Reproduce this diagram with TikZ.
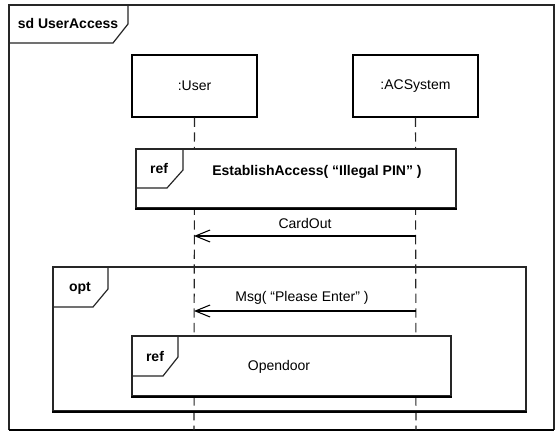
\documentclass[tikz,border=0pt]{standalone}
\usepackage{fontspec}
\setmainfont{Liberation Sans}
\usetikzlibrary{arrows.meta}
\begin{document}
\begin{tikzpicture}[x=0.75pt,y=-0.75pt,
  frameline/.style={draw=black!85,line width=0.9pt},
  lifebox/.style={draw=black,line width=0.9pt,fill=white,minimum width=93.75pt,minimum height=46.5pt,inner sep=0pt,font=\fontsize{10.5}{12}\selectfont},
  lifeline/.style={draw=black!85,line width=0.8pt,dash pattern=on 7pt off 4pt},
  msg/.style={draw=black,line width=0.8pt,-{Straight Barb[length=11pt,width=9pt,line width=0.8pt]}},
  lbl/.style={font=\fontsize{10.5}{12}\selectfont,inner sep=0pt},
  blbl/.style={font=\fontsize{10.5}{12}\selectfont\bfseries,inner sep=0pt},
  bottomedge/.style={draw=black,line width=1.6pt}]
\useasboundingbox (0,0) rectangle (560,438);
\fill[white] (0,0) rectangle (560,438);
% outer frame
\draw[frameline] (9,430) -- (9,5) -- (554,5) -- (554,430);
\draw[bottomedge] (9,430) -- (554,430);
\draw[frameline] (9,43) -- (113,43) -- (128,24) -- (128,5);
\node[blbl] (sdl) at (68,23) {sd UserAccess};
% lifelines
\node[lifebox] (user) at (194.5,86) {:User};
\node[lifebox] (acs) at (415.5,86) {:ACSystem};
\coordinate (userEnd) at (194,430);
\coordinate (acsEnd) at (416,430);
\draw[lifeline] (user.south) -- (userEnd);
\draw[lifeline] (acs.south) -- (acsEnd);
% ref 1
\node[draw=black!85,line width=0.9pt,fill=white,minimum width=240pt,minimum height=44.25pt,inner sep=0pt] (ref1) at (296,178.5) {};
\draw[bottomedge] (ref1.south west) -- (ref1.south east);
\draw[frameline] (136,188) -- (167,188) -- (183,170) -- (183,149);
\node[blbl] (ref1l) at (159,168) {ref};
\node[blbl] (ref1t) at (317,172) {EstablishAccess( “Illegal PIN” )};
% CardOut
\coordinate (m1s) at (416,236);
\coordinate (m1e) at (194,236);
\draw[msg] (m1s) -- (m1e);
\node[lbl] (m1l) at (305,223) {CardOut};
% opt frame
\node[draw=black!85,line width=0.9pt,minimum width=354.75pt,minimum height=108pt,inner sep=0pt] (opt) at (289.5,339) {};
\draw[bottomedge] (opt.south west) -- (opt.south east);
\draw[frameline] (53,307) -- (93,307) -- (108,289) -- (108,267);
\node[blbl] (optl) at (80,288) {opt};
% Msg
\coordinate (m2s) at (416,311);
\coordinate (m2e) at (194,311);
\draw[msg] (m2s) -- (m2e);
\node[lbl] (m2l) at (302,298) {Msg( “Please Enter” )};
% ref 2
\node[draw=black!85,line width=0.9pt,fill=white,minimum width=239.25pt,minimum height=45pt,inner sep=0pt] (ref2) at (291.5,366) {};
\draw[bottomedge] (ref2.south west) -- (ref2.south east);
\draw[frameline] (132,376) -- (163,376) -- (178,357) -- (178,336);
\node[blbl] (ref2l) at (155,356) {ref};
\node[lbl] (ref2t) at (279,367) {Opendoor};
\end{tikzpicture}
\end{document}
